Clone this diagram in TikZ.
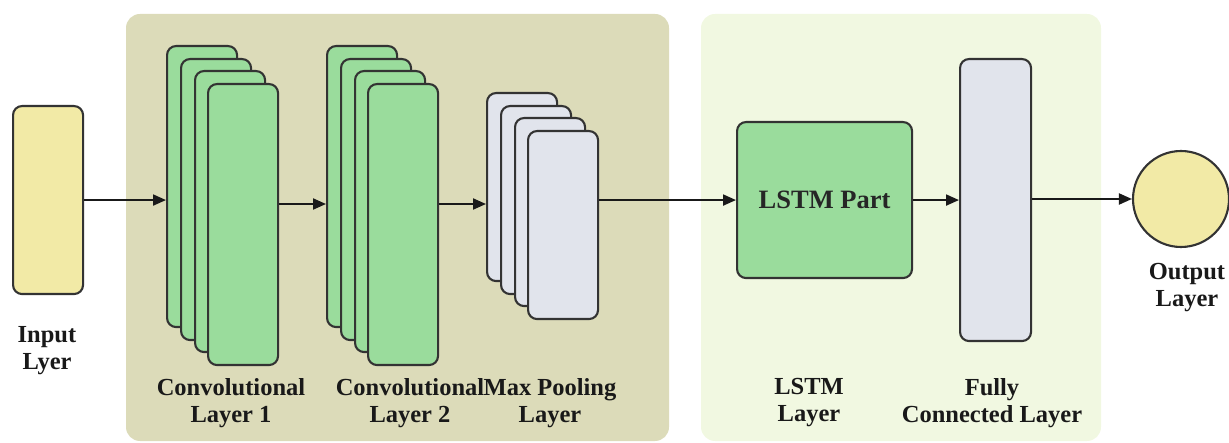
\documentclass[tikz,border=0pt]{standalone}
\usepackage{fontspec}
\setmainfont{Liberation Serif}
\usetikzlibrary{arrows.meta}
\definecolor{cnnpanel}{HTML}{DCDBB9}
\definecolor{rnnpanel}{HTML}{F1F8E1}
\definecolor{convgreen}{HTML}{9ADC9C}
\definecolor{poolgrey}{HTML}{E1E4EC}
\definecolor{ioyellow}{HTML}{F2EAA6}
\definecolor{edge}{HTML}{333333}
\tikzset{
  panel/.style={rounded corners=14pt, draw=none},
  layerbox/.style={draw=edge, line width=2.1pt, rounded corners=9pt, inner sep=0pt, anchor=north west},
  tall/.style={layerbox, minimum width=70pt, minimum height=281pt},
  short/.style={layerbox, minimum width=70pt, minimum height=188pt},
  flow/.style={line width=2pt, black!90, -{Triangle[length=13pt,width=11pt]}},
  caption/.style={font=\fontsize{24.5}{27}\selectfont\bfseries, align=center, text=black!90}
}
\begin{document}
\begin{tikzpicture}[x=1pt,y=-1pt]
\useasboundingbox (0,0) rectangle (1229,443);
% background panels
\fill[panel, cnnpanel] (126,14) rectangle (669,441);
\fill[panel, rnnpanel] (701,14) rectangle (1101,441);

% input layer
\node[short, fill=ioyellow] (in) at (12,105) {};

% convolutional layer 1
\node[tall, fill=convgreen] (c1a) at (166,45) {};
\node[tall, fill=convgreen] (c1b) at (180,58) {};
\node[tall, fill=convgreen] (c1c) at (194,70) {};
\node[tall, fill=convgreen] (c1d) at (207,83) {};

% convolutional layer 2
\node[tall, fill=convgreen] (c2a) at (326,45) {};
\node[tall, fill=convgreen] (c2b) at (340,58) {};
\node[tall, fill=convgreen] (c2c) at (354,70) {};
\node[tall, fill=convgreen] (c2d) at (367,83) {};

% max pooling layer
\node[short, fill=poolgrey] (pa) at (486,92) {};
\node[short, fill=poolgrey] (pb) at (500,105) {};
\node[short, fill=poolgrey] (pc) at (514,117) {};
\node[short, fill=poolgrey] (pd) at (527,130) {};

% LSTM part and fully connected layer
\node[layerbox, fill=convgreen, minimum width=175pt, minimum height=156pt] (lstm) at (736,121) {};
\node[font=\fontsize{26.5}{30}\selectfont\bfseries, text=black!85] (lstmtxt) at (lstm.center) {LSTM Part};
\node[layerbox, fill=poolgrey, minimum width=71pt, minimum height=282pt] (fc) at (959,58) {};

% output layer
\node[circle, draw=edge, line width=2.1pt, fill=ioyellow, minimum size=96pt, inner sep=0pt] (out) at (1181,199) {};

% connectors
\coordinate (lane) at (0,204);
\draw[flow] (in.east) -- (in.east -| c1a.west);
\draw[flow] (c1d.east |- lane) -- (c2a.west |- lane);
\draw[flow] (c2d.east |- lane) -- (pa.west |- lane);
\draw[flow] (pd.east |- in.east) -- (lstm.west);
\draw[flow] (lstm.east) -- (fc.west |- lstm.east);
\draw[flow] (fc.east |- out.west) -- (out.west);

% captions
\node[caption] (tin) at (47,351) {Input\\Lyer};
\node[caption] (tc1) at (231,403) {Convolutional\\Layer 1};
\node[caption] (tc2) at (410,403) {Convolutional\\Layer 2};
\node[caption] (tmp) at (550,403) {Max Pooling\\Layer};
\node[caption] (tls) at (809,403) {LSTM\\Layer};
\node[caption] (tfc) at (992,403) {Fully\\Connected Layer};
\node[caption] (tout) at (1187,288) {Output\\Layer};
\end{tikzpicture}
\end{document}
